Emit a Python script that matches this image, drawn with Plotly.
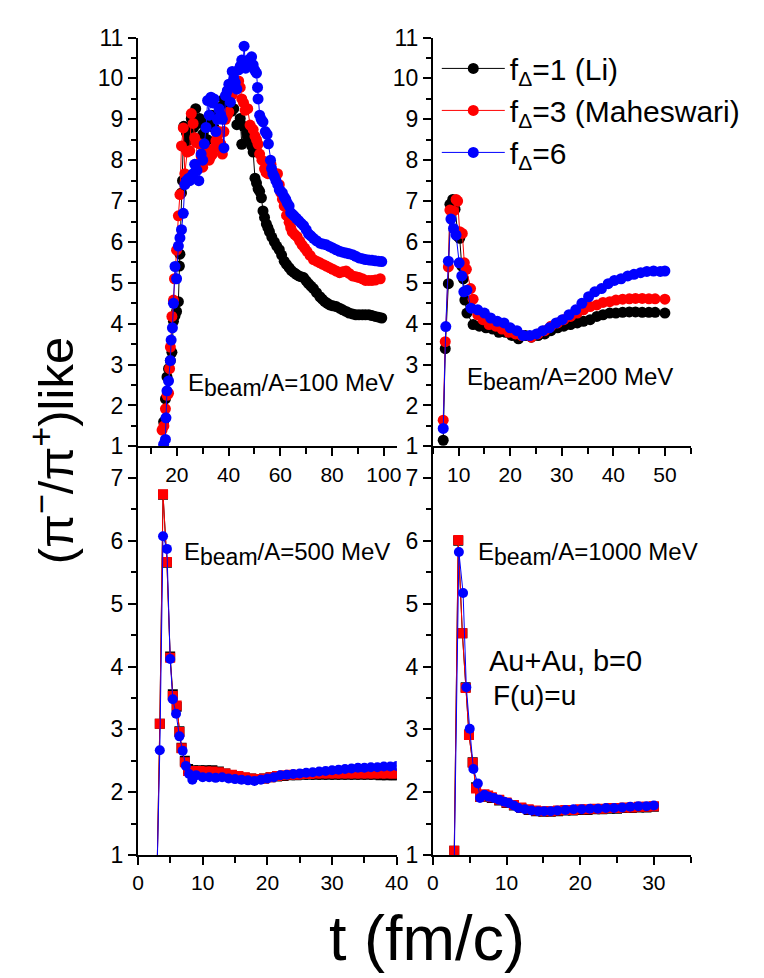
import plotly.graph_objects as go

# ---------------- data ----------------
# Panel a: E_beam/A = 100 MeV
t100_li = [14.9, 15.6, 16.2, 16.8, 17.5, 18.1, 18.7, 19.3, 19.9, 20.6, 21.0, 21.2, 21.8, 22.2, 22.7, 23.2, 23.7, 24.5, 25.6, 26.5,
           27.3, 28.0, 28.8, 29.4, 30.0, 31.0, 31.8, 32.5, 33.5, 34.3, 35.1, 36.0, 37.0, 38.2, 39.5, 40.5, 41.2, 42.0, 43.2, 44.5,
           45.1, 45.8, 47.0, 47.6, 48.9, 49.5, 50.2, 50.8, 51.4, 52.0, 52.7, 53.3, 53.9, 54.6, 55.2, 55.8, 56.7, 57.7, 58.6, 59.6,
           60.5, 61.5, 62.4, 63.4, 64.3, 65.3, 66.2, 67.1, 68.0, 69.0, 70.0, 70.9, 71.8, 72.8, 74.0, 75.3, 76.2, 77.2, 78.2, 79.1,
           80.3, 81.6, 82.9, 84.1, 85.4, 86.6, 87.9, 89.2, 90.4, 91.7, 92.9, 94.2, 95.4, 96.7, 98.0, 99.2]
v100_li = [1.6, 2.16, 2.7, 2.9, 3.1, 3.3, 4.06, 4.2, 4.3, 4.54, 5.41, 5.7, 7.2, 7.5, 8.83, 8.3, 8.67, 8.5, 9.02, 8.8,
           9.26, 8.9, 9.02, 8.4, 8.63, 8.9, 8.5, 8.87, 9.1, 8.8, 9.02, 9.1, 9.3, 9.5, 9.18, 9.35, 9.2, 9.26, 8.87, 9.02,
           8.39, 8.83, 8.67, 8.55, 8.35, 8.2, 7.56, 7.44, 7.3, 7.24, 7.08, 6.76, 6.6, 6.44, 6.35, 6.25, 6.12, 6.0, 5.9, 5.81,
           5.68, 5.53, 5.45, 5.37, 5.3, 5.25, 5.21, 5.17, 5.15, 5.13, 5.05, 4.98, 4.92, 4.86, 4.76, 4.66, 4.6, 4.54, 4.5, 4.46,
           4.44, 4.42, 4.38, 4.34, 4.3, 4.26, 4.24, 4.22, 4.22, 4.22, 4.22, 4.22, 4.2, 4.18, 4.16, 4.14]

t100_mah = [14.3, 15.0, 15.6, 16.2, 16.8, 17.2, 17.5, 18.1, 18.7, 19.1, 19.9, 20.6, 21.2, 21.8, 22.5, 23.1, 24.0, 25.0, 25.6, 26.3,
            26.9, 27.5, 28.1, 28.8, 29.4, 30.0, 30.6, 31.3, 32.0, 32.5, 33.2, 33.8, 34.5, 35.1, 35.7, 36.3, 37.0, 37.6, 38.2, 38.8,
            39.5, 40.1, 40.7, 41.4, 42.0, 42.6, 43.2, 43.9, 44.5, 45.1, 45.8, 46.4, 47.4, 48.3, 49.5, 50.2, 50.8, 51.4, 52.0, 52.9,
            53.9, 54.5, 55.2, 55.8, 56.4, 57.1, 57.7, 58.3, 58.9, 59.6, 60.2, 60.8, 61.5, 62.4, 63.4, 64.0, 64.6, 65.6, 66.5, 67.5,
            68.4, 69.4, 70.3, 71.5, 72.8, 74.0, 75.3, 76.5, 77.8, 79.0, 80.3, 81.6, 82.9, 84.1, 85.4, 86.6, 87.9, 89.2, 90.4, 91.7,
            92.9, 94.2, 95.4, 96.7, 98.6]
v100_mah = [1.4, 1.5, 1.92, 2.25, 2.3, 2.9, 3.43, 4.18, 4.58, 5.1, 5.8, 6.64, 7.16, 8.35, 8.79, 7.67, 8.2, 8.23, 9.14, 8.9,
            8.55, 8.43, 7.9, 8.4, 8.1, 7.83, 8.0, 8.27, 8.05, 8.0, 8.1, 8.15, 8.3, 8.47, 8.6, 8.7, 8.4, 8.15, 8.7, 9.0,
            9.1, 9.18, 9.58, 9.6, 9.78, 9.85, 9.9, 9.94, 9.78, 9.5, 9.4, 9.22, 9.26, 8.86, 8.75, 8.59, 8.5, 8.39, 8.15, 8.0,
            7.79, 7.7, 7.67, 7.75, 7.9, 7.7, 7.63, 7.6, 7.67, 7.4, 7.2, 7.05, 6.88, 6.65, 6.48, 6.35, 6.25, 6.18, 6.13, 6.02,
            5.93, 5.85, 5.77, 5.67, 5.57, 5.53, 5.49, 5.45, 5.41, 5.37, 5.33, 5.29, 5.25, 5.27, 5.29, 5.23, 5.17, 5.15, 5.13, 5.1,
            5.06, 5.06, 5.06, 5.07, 5.1]

t100_f6 = [14.9, 15.6, 15.8, 16.2, 16.8, 17.5, 17.8, 18.3, 18.7, 19.3, 19.9, 20.6, 21.2, 21.8, 22.5, 23.1, 23.7, 24.4, 25.0, 25.6,
           26.3, 26.9, 27.8, 28.5, 29.4, 30.0, 30.6, 31.3, 31.9, 32.5, 33.2, 33.8, 34.4, 35.1, 35.7, 36.3, 37.0, 37.6, 38.2, 38.8,
           39.5, 40.1, 40.7, 41.4, 42.0, 42.6, 43.2, 43.9, 44.5, 45.1, 45.6, 46.0, 46.6, 47.1, 47.6, 48.2, 48.9, 49.5, 50.1, 50.8,
           51.2, 51.4, 52.0, 52.6, 53.3, 54.2, 54.9, 55.4, 56.2, 56.6, 57.1, 57.7, 58.3, 59.0, 59.6, 60.2, 60.8, 61.5, 62.1, 62.7,
           63.4, 64.0, 64.6, 65.3, 66.2, 67.1, 68.0, 69.0, 70.0, 70.9, 71.8, 72.8, 74.0, 75.3, 76.5, 77.8, 79.0, 80.3, 81.6, 82.9,
           84.1, 85.4, 86.6, 87.9, 89.2, 90.4, 91.7, 92.9, 94.2, 95.4, 96.7, 98.0, 99.2]
v100_f6 = [1.05, 1.17, 1.7, 2.36, 2.6, 3.1, 3.6, 3.9, 4.5, 5.4, 5.1, 5.9, 6.1, 6.3, 6.7, 7.4, 7.5, 7.55, 7.5, 7.6,
           7.67, 7.9, 7.75, 7.5, 8.15, 8.0, 8.4, 8.8, 9.46, 9.1, 9.54, 9.4, 9.5, 8.7, 9.0, 9.26, 9.1, 9.0, 8.3, 9.58,
           9.7, 9.86, 9.42, 10.17, 10.0, 9.9, 9.74, 10.21, 10.3, 10.45, 10.3, 10.79, 10.25, 10.4, 10.45, 10.35, 10.53, 10.33, 10.2, 10.13,
           9.78, 9.5, 9.1, 9.0, 8.94, 8.7, 8.63, 8.4, 8.0, 7.8, 7.67, 7.6, 7.5, 7.4, 7.28, 7.24, 7.2, 7.1, 7.04, 6.95,
           6.88, 6.72, 6.68, 6.64, 6.58, 6.52, 6.46, 6.4, 6.3, 6.2, 6.15, 6.09, 6.03, 5.97, 5.95, 5.93, 5.89, 5.85, 5.81, 5.77,
           5.75, 5.73, 5.71, 5.69, 5.65, 5.61, 5.59, 5.57, 5.56, 5.55, 5.54, 5.53, 5.52]

# Panel b: E_beam/A = 200 MeV
t200_li = [7.0, 7.4, 8.0, 8.3, 8.85, 9.3, 9.9, 10.2, 10.6, 10.9, 11.2, 11.6, 12.8, 14.0, 15.3, 16.6, 17.8, 19.1, 20.3, 21.6,
           22.9, 24.1, 25.4, 26.7, 27.9, 29.2, 30.4, 31.7, 33.0, 34.2, 35.5, 36.8, 38.0, 39.3, 40.5, 41.8, 43.1, 44.3, 45.6, 46.9,
           48.1, 50.0]
v200_li = [1.15, 3.39, 4.98, 6.92, 7.04, 6.8, 6.13, 6.09, 5.41, 5.1, 4.58, 4.26, 3.98, 3.94, 3.9, 3.87, 3.79, 3.79, 3.71, 3.63,
           3.71, 3.67, 3.71, 3.75, 3.83, 3.9, 3.94, 3.98, 4.02, 4.06, 4.1, 4.18, 4.22, 4.26, 4.26, 4.28, 4.29, 4.29, 4.28, 4.28,
           4.28, 4.26]

t200_mah = [7.0, 7.4, 8.0, 8.3, 9.0, 9.5, 9.8, 10.2, 10.7, 11.1, 11.5, 12.3, 12.8, 13.7, 14.7, 15.9, 17.2, 18.4, 19.7, 21.0,
            22.2, 24.1, 25.4, 26.7, 27.9, 29.2, 30.4, 31.7, 33.0, 34.2, 35.5, 36.8, 38.0, 39.3, 40.5, 41.8, 43.1, 44.3, 45.6, 46.9,
            48.1, 50.0]
v200_mah = [1.64, 3.56, 5.39, 6.78, 6.76, 7.04, 7.0, 6.25, 6.21, 5.49, 5.33, 4.86, 4.6, 4.22, 4.1, 3.98, 3.94, 3.87, 3.79, 3.75,
            3.71, 3.67, 3.75, 3.83, 3.94, 4.02, 4.1, 4.18, 4.26, 4.34, 4.42, 4.46, 4.52, 4.54, 4.58, 4.6, 4.61, 4.62, 4.62, 4.61,
            4.61, 4.6]

t200_f6 = [7.0, 7.5, 8.0, 8.5, 9.0, 9.5, 10.1, 10.6, 11.0, 11.6, 12.4, 13.7, 15.0, 16.2, 17.5, 18.8, 20.0, 21.3, 22.5, 23.8,
           25.1, 26.3, 27.6, 28.9, 30.1, 31.4, 32.7, 33.9, 35.2, 36.4, 37.7, 39.0, 40.2, 41.5, 42.8, 44.0, 45.3, 46.5, 47.8, 49.1,
           50.0]
v200_f6 = [1.44, 3.93, 5.53, 6.56, 6.33, 6.17, 5.49, 5.17, 4.78, 4.82, 4.38, 4.34, 4.26, 4.14, 4.06, 4.02, 3.9, 3.83, 3.71, 3.71,
           3.75, 3.83, 3.9, 4.02, 4.1, 4.22, 4.34, 4.5, 4.66, 4.78, 4.86, 4.98, 5.06, 5.1, 5.17, 5.21, 5.25, 5.28, 5.29, 5.28,
           5.29]

# Panel c: E_beam/A = 500 MeV
t500_li = [2.96, 3.37, 3.87, 4.47, 4.97, 5.38, 5.98, 6.4, 6.73, 7.24, 7.74, 8.5, 9.5, 10.5, 11.5, 12.5, 13.5, 14.5, 15.5, 16.5,
           17.5, 18.5, 19.5, 20.5, 21.5, 22.5, 23.5, 24.5, 25.5, 26.5, 27.5, 28.5, 29.5, 30.5, 31.5, 32.5, 33.5, 34.5, 35.5, 36.5,
           37.5, 38.5, 39.5, 40.0]
v500_li = [0.8, 3.09, 6.73, 5.65, 4.16, 3.56, 3.36, 2.97, 2.71, 2.5, 2.37, 2.35, 2.35, 2.35, 2.35, 2.33, 2.3, 2.27, 2.25, 2.23,
           2.22, 2.21, 2.22, 2.24, 2.25, 2.26, 2.27, 2.27, 2.28, 2.28, 2.28, 2.28, 2.28, 2.28, 2.28, 2.28, 2.28, 2.28, 2.28, 2.28,
           2.27, 2.27, 2.27, 2.27]

t500_mah = [2.96, 3.37, 3.87, 4.47, 4.97, 5.38, 5.98, 6.4, 6.73, 7.24, 7.74, 8.5, 9.5, 10.5, 11.5, 12.5, 13.5, 14.5, 15.5, 16.5,
            17.5, 18.5, 19.5, 20.5, 21.5, 22.5, 23.5, 24.5, 25.5, 26.5, 27.5, 28.5, 29.5, 30.5, 31.5, 32.5, 33.5, 34.5, 35.5, 36.5,
            37.5, 38.5, 39.5, 40.0]
v500_mah = [0.8, 3.09, 6.74, 5.66, 4.14, 3.53, 3.38, 2.96, 2.7, 2.48, 2.34, 2.34, 2.34, 2.33, 2.33, 2.32, 2.3, 2.28, 2.26, 2.24,
            2.22, 2.21, 2.22, 2.24, 2.26, 2.27, 2.28, 2.28, 2.29, 2.29, 2.3, 2.3, 2.3, 2.3, 2.3, 2.3, 2.3, 2.3, 2.3, 2.3,
            2.3, 2.3, 2.3, 2.3]

t500_f6 = [2.96, 3.37, 3.87, 4.47, 4.97, 5.38, 5.88, 6.4, 6.9, 7.4, 7.9, 8.4, 9.0, 10.0, 11.0, 12.0, 13.0, 14.0, 15.0, 16.0,
           17.0, 18.0, 19.0, 20.0, 21.0, 22.0, 23.0, 24.0, 25.0, 26.0, 27.0, 28.0, 29.0, 30.0, 31.0, 32.0, 33.0, 34.0, 35.0, 36.0,
           37.0, 38.0, 39.0, 40.0]
v500_f6 = [0.8, 2.67, 6.07, 5.87, 4.12, 3.48, 3.25, 2.89, 2.66, 2.42, 2.29, 2.2, 2.27, 2.24, 2.24, 2.23, 2.24, 2.22, 2.21, 2.2,
           2.19, 2.18, 2.2, 2.22, 2.24, 2.27, 2.28, 2.29, 2.3, 2.31, 2.32, 2.33, 2.34, 2.35, 2.36, 2.37, 2.38, 2.39, 2.39, 2.4,
           2.4, 2.41, 2.41, 2.42]

# Panel d: E_beam/A = 1000 MeV
t1000_li = [2.9, 3.44, 4.0, 4.45, 4.9, 5.4, 5.86, 6.4, 7.0, 7.5, 8.0, 9.0, 10.0, 11.0, 12.0, 13.0, 14.0, 15.0, 16.0, 17.0,
            18.0, 19.0, 20.0, 21.0, 22.0, 23.0, 24.0, 25.0, 26.0, 27.0, 28.0, 29.0, 30.0]
v1000_li = [1.07, 6.0, 4.53, 3.67, 2.92, 2.48, 2.08, 1.93, 1.95, 1.93, 1.91, 1.87, 1.83, 1.79, 1.75, 1.72, 1.7, 1.69, 1.69, 1.7,
            1.71, 1.71, 1.72, 1.72, 1.73, 1.73, 1.74, 1.74, 1.75, 1.75, 1.76, 1.76, 1.77]

t1000_mah = [2.9, 3.44, 4.0, 4.45, 4.9, 5.4, 5.86, 6.4, 7.0, 7.5, 8.0, 9.0, 10.0, 11.0, 12.0, 13.0, 14.0, 15.0, 16.0, 17.0,
             18.0, 19.0, 20.0, 21.0, 22.0, 23.0, 24.0, 25.0, 26.0, 27.0, 28.0, 29.0, 30.0]
v1000_mah = [1.07, 6.01, 4.53, 3.66, 2.91, 2.47, 2.06, 1.93, 1.97, 1.95, 1.92, 1.88, 1.84, 1.8, 1.76, 1.73, 1.71, 1.7, 1.7, 1.71,
             1.72, 1.72, 1.73, 1.73, 1.74, 1.74, 1.75, 1.75, 1.76, 1.76, 1.77, 1.77, 1.78]

t1000_f6 = [2.9, 3.53, 4.1, 4.54, 5.0, 5.5, 6.1, 6.4, 7.0, 7.6, 8.3, 9.0, 9.7, 10.3, 11.0, 11.6, 12.5, 13.4, 14.3, 15.1,
            16.0, 16.9, 18.0, 19.1, 20.2, 21.3, 22.4, 23.5, 24.6, 25.7, 26.8, 27.9, 29.0, 30.0]
v1000_f6 = [0.9, 5.82, 5.17, 3.67, 3.01, 2.37, 2.14, 1.91, 1.96, 1.93, 1.91, 1.88, 1.85, 1.83, 1.79, 1.75, 1.73, 1.71, 1.7, 1.7,
            1.7, 1.71, 1.72, 1.73, 1.73, 1.74, 1.74, 1.75, 1.75, 1.76, 1.77, 1.78, 1.78, 1.79]

series_names = ["f<sub>Δ</sub>=1 (Li)", "f<sub>Δ</sub>=3 (Maheswari)", "f<sub>Δ</sub>=6"]
series_colors = ["#000000", "#ff0000", "#0000ff"]
panel_labels = ["100", "200", "500", "1000"]

# ---------------- figure ----------------
FONT = "Liberation Sans, Arial, sans-serif"
W, H = 764, 978

def px(x):
    return x / W

def py(y):
    return 1 - y / H

panels = [
    dict(ax="1", data=[(t100_li, v100_li), (t100_mah, v100_mah), (t100_f6, v100_f6)],
         sym=["circle", "circle", "circle"], legend=False, size=11),
    dict(ax="2", data=[(t200_li, v200_li), (t200_mah, v200_mah), (t200_f6, v200_f6)],
         sym=["circle", "circle", "circle"], legend=True, size=11),
    dict(ax="3", data=[(t500_li, v500_li), (t500_mah, v500_mah), (t500_f6, v500_f6)],
         sym=["square", "square", "circle"], legend=False, size=10),
    dict(ax="4", data=[(t1000_li, v1000_li), (t1000_mah, v1000_mah), (t1000_f6, v1000_f6)],
         sym=["square", "square", "circle"], legend=False, size=10),
]

fig = go.Figure()
for p in panels:
    xa = "x" if p["ax"] == "1" else "x" + p["ax"]
    ya = "y" if p["ax"] == "1" else "y" + p["ax"]
    for i, (tt, vv) in enumerate(p["data"]):
        fig.add_trace(go.Scatter(
            x=tt, y=vv, xaxis=xa, yaxis=ya, mode="lines+markers",
            name=series_names[i], showlegend=p["legend"],
            line=dict(color=series_colors[i], width=1),
            marker=dict(color=series_colors[i], size=p["size"], symbol=p["sym"][i], line=dict(width=0)),
        ))

left_dom = [px(127), px(392)]
right_dom = [px(429), px(693)]
top_dom = [py(437), py(17)]
bot_dom = [py(857), py(437)]

xtickfont = dict(family=FONT, size=21, color="black")
ytickfont = dict(family=FONT, size=23, color="black")

def xaxis(dom, anchor, rng, dtick, mdtick):
    return dict(domain=dom, anchor=anchor, range=rng, dtick=dtick, tick0=0,
                showline=True, linecolor="black", linewidth=2, showgrid=False, zeroline=False,
                ticks="outside", ticklen=8, tickwidth=1.5, tickcolor="black", tickfont=xtickfont,
                minor=dict(dtick=mdtick, ticks="outside", ticklen=6, tickwidth=1.5, tickcolor="black", showgrid=False))

def yaxis(dom, anchor, rng):
    return dict(domain=dom, anchor=anchor, range=rng, dtick=1, tick0=0,
                showline=True, linecolor="black", linewidth=2, showgrid=False, zeroline=False,
                ticks="outside", ticklen=8, tickwidth=1.5, tickcolor="black", tickfont=ytickfont,
                minor=dict(dtick=0.5, ticks="outside", ticklen=5, tickwidth=1.5, tickcolor="black", showgrid=False))

fig.update_layout(
    width=W, height=H, margin=dict(l=0, r=0, t=0, b=0),
    paper_bgcolor="white", plot_bgcolor="white",
    font=dict(family=FONT, color="black"),
    xaxis=xaxis(left_dom, "y", [5, 105], 20, 10),
    yaxis=yaxis(top_dom, "x", [1, 11]),
    xaxis2=xaxis(right_dom, "y2", [5, 55], 10, 5),
    yaxis2=yaxis(top_dom, "x2", [1, 11]),
    xaxis3=xaxis(left_dom, "y3", [0, 40], 10, 5),
    yaxis3=yaxis(bot_dom, "x3", [1, 7.5]),
    xaxis4=xaxis(right_dom, "y4", [0, 35], 10, 5),
    yaxis4=yaxis(bot_dom, "x4", [1, 7.5]),
    showlegend=True,
    legend=dict(x=px(433), y=py(22), xanchor="left", yanchor="top",
                bgcolor="rgba(0,0,0,0)", font=dict(family=FONT, size=30, color="black"),
                itemwidth=63, tracegroupgap=0),
)

def label(x, y, text, size=24, xanchor="left"):
    fig.add_annotation(x=px(x), y=py(y), xref="paper", yref="paper", text=text, showarrow=False,
                       xanchor=xanchor, yanchor="middle", font=dict(family=FONT, size=size, color="black"))

sub = "E<sub><span style='font-size:23px'>beam</span></sub>/A={} MeV"
label(176, 374, sub.format(panel_labels[0]))
label(462, 368, sub.format(panel_labels[1]))
label(172, 548, sub.format(panel_labels[2]))
label(473, 548, sub.format(panel_labels[3]))
label(484, 657, "Au+Au, b=0", size=29)
label(488, 693, "F(u)=u", size=28)

fig.add_annotation(x=px(40), y=py(442), xref="paper", yref="paper", showarrow=False, textangle=-90,
                   text="(π<sup>−</sup>/π<sup>+</sup>)like", xanchor="center", yanchor="middle",
                   font=dict(family=FONT, size=49, color="black"))
fig.add_annotation(x=px(423), y=py(942), xref="paper", yref="paper", showarrow=False,
                   text="t (fm/c)", xanchor="center", yanchor="middle",
                   font=dict(family=FONT, size=63, color="black"))

fig.write_html("out.html")
